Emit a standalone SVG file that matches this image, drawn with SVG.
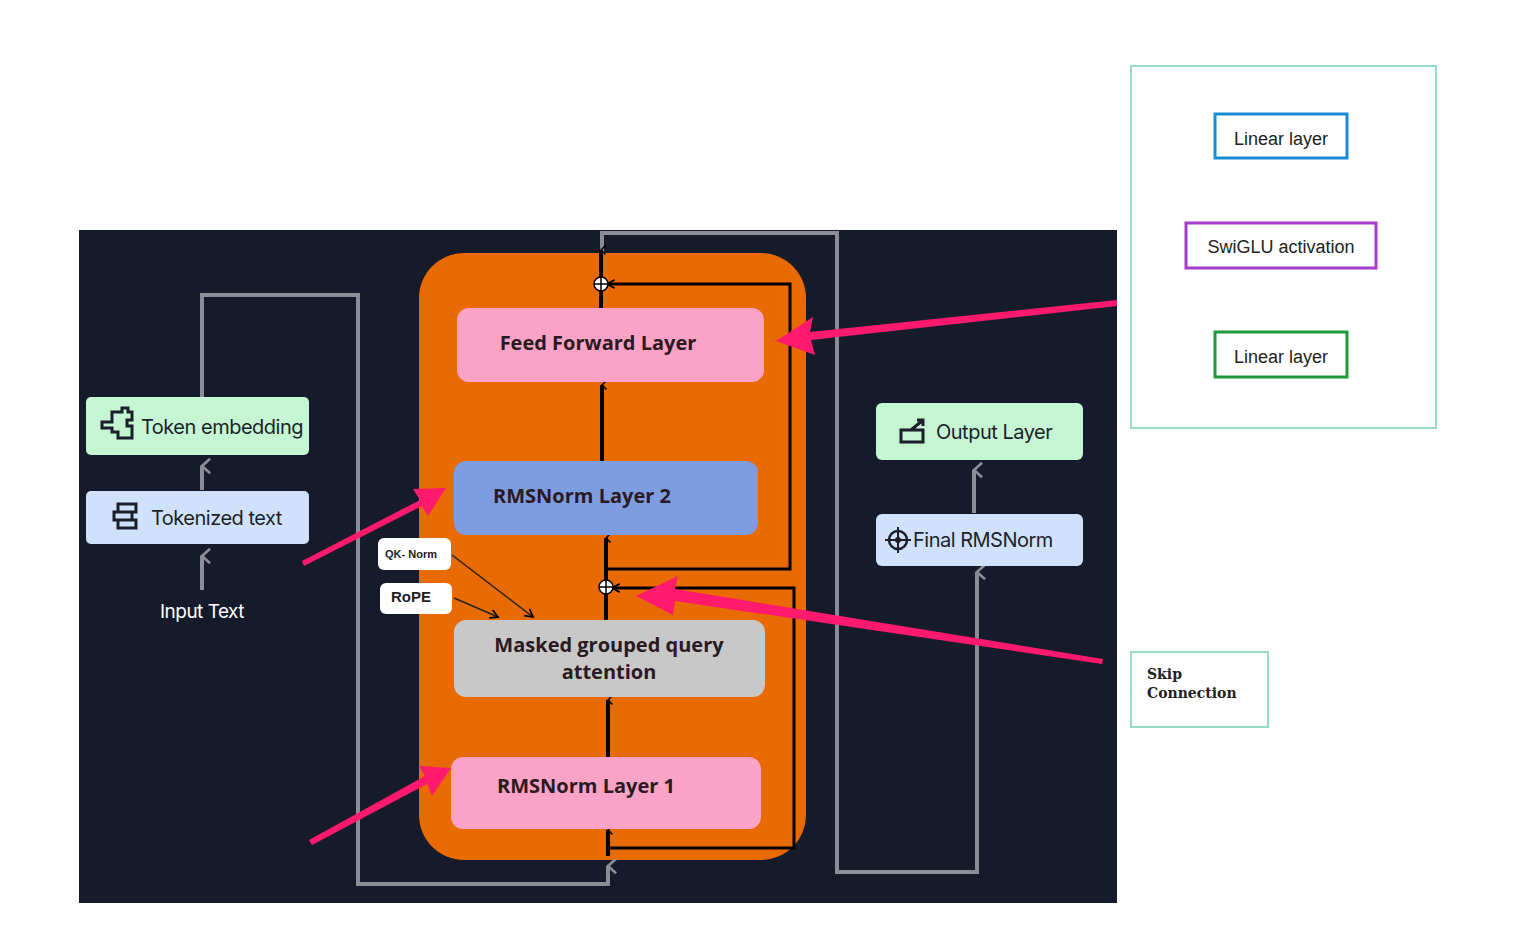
<svg xmlns="http://www.w3.org/2000/svg" width="1538" height="942" viewBox="0 0 1538 942">
<style>
.lbl{font-family:"Open Sans","Liberation Sans",sans-serif;font-weight:bold;font-size:20px;fill:#2a1a22}
.nd{font-family:Inter,"Liberation Sans",sans-serif;font-size:20px;fill:#1b1f2a;letter-spacing:-0.5px}
.sk{fill:none;stroke:#000;stroke-width:3}
.gr{fill:none;stroke:#8a8d96;stroke-width:4}
.pk{fill:#ff1a6e}
.rp{font-family:"Liberation Sans",sans-serif;font-size:18px;fill:#222}
</style>
<defs>
<marker id="ah" viewBox="0 0 20 20" refX="10" refY="3" markerWidth="10" markerHeight="10" markerUnits="userSpaceOnUse" orient="auto-start-reverse"><path d="M1,12 L10,3 L19,12" fill="none" stroke="#000" stroke-width="3"/></marker>
<marker id="am" viewBox="0 0 14 14" refX="12" refY="7" markerWidth="12" markerHeight="12" markerUnits="userSpaceOnUse" orient="auto"><path d="M3,2 L12,7 L3,12" fill="none" stroke="#000" stroke-width="2"/></marker>
<marker id="ag" viewBox="0 0 20 20" refX="10" refY="3" markerWidth="18" markerHeight="18" markerUnits="userSpaceOnUse" orient="auto"><path d="M2,12 L10,3 L18,12" fill="none" stroke="#8a8d96" stroke-width="3"/></marker>
<marker id="gg" viewBox="0 0 10 10" refX="5" refY="9" markerWidth="10" markerHeight="10" markerUnits="userSpaceOnUse" orient="auto"><path d="M0,2 L5,9 L10,2" fill="#666"/></marker>
</defs>
<rect width="1538" height="942" fill="#fff"/>
<rect x="79" y="230" width="1038" height="673" fill="#161b2b"/>
<g id="block"><rect x="419" y="253" width="387" height="607" rx="45" fill="#e96a00"/></g>
<g id="connectors">
<path class="gr" d="M202,397 V295 H358 V884 H608 V866" marker-end="url(#ag)"/>
<path class="gr" d="M602,253 V233 H837 V872 H977 V572" marker-end="url(#ag)"/>
<path class="gr" d="M202,490 V466" marker-end="url(#ag)"/>
<path class="gr" d="M202,590 V556" marker-end="url(#ag)"/>
<path class="gr" d="M974,513 V470" marker-end="url(#ag)"/>
<path d="M608,856 V830" fill="none" stroke="#000" stroke-width="4" marker-end="url(#ah)"/>
<path d="M608,757 V700" fill="none" stroke="#000" stroke-width="4" marker-end="url(#ah)"/>
<path d="M606,620 V538" fill="none" stroke="#000" stroke-width="4" marker-end="url(#ah)"/>
<path d="M602,461 V385" fill="none" stroke="#000" stroke-width="4" marker-end="url(#ah)"/>
<path d="M601,308 V250" fill="none" stroke="#000" stroke-width="4" marker-end="url(#ah)"/>
<path class="sk" d="M608,848 H794 V588 H612" marker-end="url(#am)"/>
<path class="sk" d="M606,569 H790 V284 H607" marker-end="url(#am)"/>
<circle cx="606" cy="587" r="7" fill="#fff" stroke="#000" stroke-width="1.5"/><path d="M599,587 H613 M606,580 V594" stroke="#000" stroke-width="1.5"/>
<circle cx="601" cy="284" r="7" fill="#fff" stroke="#000" stroke-width="1.5"/><path d="M594,284 H608 M601,277 V291" stroke="#000" stroke-width="1.5"/>
<path d="M452,555 L533,617" stroke="#222" stroke-width="1.5" fill="none" marker-end="url(#am)"/>
<path d="M454,598 L498,617" stroke="#222" stroke-width="1.5" fill="none" marker-end="url(#am)"/>
<path d="M1281,159 V221" stroke="#666" stroke-width="2" marker-end="url(#gg)"/>
<path d="M1281,268 V330" stroke="#666" stroke-width="2" marker-end="url(#gg)"/>
<path class="pk" d="M302,561 L420,500 L413,489 L446,488 L428,516 L422,506 L304,566Z"/>
<path class="pk" d="M309,840 L425,776 L419,766 L451,768 L432,796 L427,784 L312,845Z"/>
<path class="pk" d="M1117,300 L810,332 L813,317 L776,341 L815,355 L811,340 L1117,306Z"/>
<path class="pk" d="M1103,659 L675,589 L678,576 L636,596 L673,615 L675,601 L1102,664Z"/>
</g>
<g id="ffn"><rect x="457" y="308" width="307" height="74" rx="12" fill="#fba3c6"/><text class="lbl" x="598" y="350" text-anchor="middle">Feed Forward Layer</text></g>
<g id="rms2"><rect x="454" y="461" width="304" height="74" rx="12" fill="#7d9de0"/><text class="lbl" x="582" y="503" text-anchor="middle">RMSNorm Layer 2</text></g>
<g id="mgqa"><rect x="454" y="620" width="311" height="77" rx="12" fill="#c8c8c8"/><text class="lbl" x="609" y="652" text-anchor="middle">Masked grouped query</text><text class="lbl" x="609" y="679" text-anchor="middle">attention</text></g>
<g id="rms1"><rect x="451" y="757" width="310" height="72" rx="12" fill="#fba3c6"/><text class="lbl" x="586" y="793" text-anchor="middle">RMSNorm Layer 1</text></g>
<g id="qknorm"><rect x="378" y="538" width="73" height="32" rx="6" fill="#fff"/><text x="411" y="558" text-anchor="middle" font-family="Liberation Sans,sans-serif" font-weight="bold" font-size="11" fill="#222">QK- Norm</text></g>
<g id="rope"><rect x="380" y="583" width="72" height="31" rx="6" fill="#fff"/><text x="411" y="602" text-anchor="middle" font-family="Liberation Sans,sans-serif" font-weight="bold" font-size="15" fill="#222">RoPE</text></g>
<g id="tokemb"><rect x="86" y="397" width="223" height="58" rx="5" fill="#c6f5d3"/>
<path d="M112,412 h10 v-4 h6 v4 h4 v8 h-5 v6 h5 v12 h-14 v-6 h-6 v-4 h-10 v-6 h10z" fill="none" stroke="#1b1f2a" stroke-width="3"/>
<text class="nd" x="141" y="434">Token embedding</text></g>
<g id="toktext"><rect x="86" y="491" width="223" height="53" rx="5" fill="#d0e2fb"/>
<path d="M118,504 h18 v8 h-18z M114,512 h18 v8 h-18z M118,520 h18 v8 h-18z" fill="none" stroke="#1b1f2a" stroke-width="3"/>
<text class="nd" x="151" y="525">Tokenized text</text></g>
<text x="202" y="618" text-anchor="middle" font-family="Inter,Liberation Sans,sans-serif" font-size="19" fill="#fff" letter-spacing="-0.5">Input Text</text>
<g id="output"><rect x="876" y="403" width="207" height="57" rx="6" fill="#c6f5d3"/>
<path d="M901,430 h22 v12 h-22z M911,430 l12,-10 m-6,0 h6 v6" fill="none" stroke="#1b1f2a" stroke-width="3"/>
<text class="nd" x="936" y="439">Output Layer</text></g>
<g id="finalrms"><rect x="876" y="514" width="207" height="52" rx="6" fill="#d0e2fb"/>
<circle cx="898" cy="540" r="9" fill="none" stroke="#1b1f2a" stroke-width="2.5"/><circle cx="898" cy="540" r="3" fill="#1b1f2a"/><path d="M885,540 h26 M898,527 v26" stroke="#1b1f2a" stroke-width="2"/>
<text class="nd" x="913" y="547">Final RMSNorm</text></g>
<g id="panel"><rect x="1131" y="66" width="305" height="362" fill="#fff" stroke="#97dcc6" stroke-width="2"/></g>
<g id="lin1"><rect x="1215" y="114" width="132" height="44" fill="#fff" stroke="#1a8ad6" stroke-width="3"/><text class="rp" x="1281" y="145" text-anchor="middle">Linear layer</text></g>
<g id="swiglu"><rect x="1186" y="223" width="190" height="45" fill="#fff" stroke="#a63bcb" stroke-width="3"/><text class="rp" x="1281" y="253" text-anchor="middle">SwiGLU activation</text></g>
<g id="lin2"><rect x="1215" y="332" width="132" height="45" fill="#fff" stroke="#1d9a3a" stroke-width="3"/><text class="rp" x="1281" y="363" text-anchor="middle">Linear layer</text></g>
<g id="skip"><rect x="1131" y="652" width="137" height="75" fill="#fff" stroke="#97dcc6" stroke-width="2"/>
<text x="1147" y="679" font-family="DejaVu Serif,Liberation Serif,serif" font-weight="bold" font-size="14" fill="#222">Skip</text>
<text x="1147" y="698" font-family="DejaVu Serif,Liberation Serif,serif" font-weight="bold" font-size="14" fill="#222">Connection</text></g>
</svg>
